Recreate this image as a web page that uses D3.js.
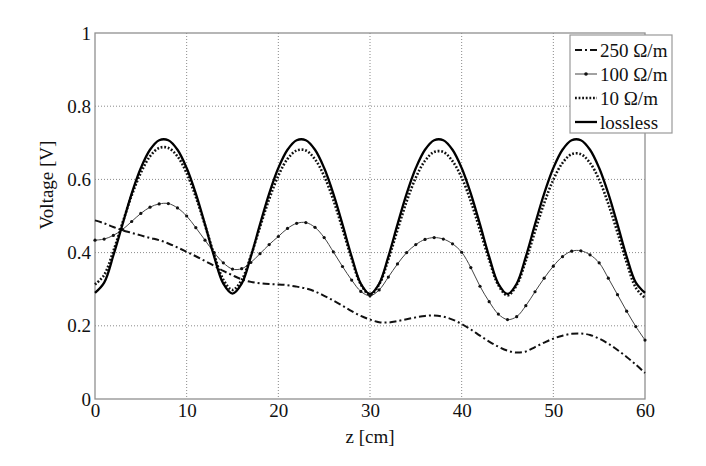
<!DOCTYPE html>
<html>
<head>
<meta charset="utf-8">
<script src="https://cdn.jsdelivr.net/npm/d3@7"></script>
<style>
  body { margin: 0; background: #fff; }
</style>
</head>
<body>
<div id="chart"></div>
<script>
const width = 706;
const height = 466;
const serif = "'Liberation Serif', 'DejaVu Serif', serif";

// sample positions along the line [cm]
const zPos = [0,1,2,3,4,5,6,7,8,9,10,11,12,13,14,15,16,17,18,19,20,
  21,22,23,24,25,26,27,28,29,30,31,32,33,34,35,36,37,38,39,40,
  41,42,43,44,45,46,47,48,49,50,51,52,53,54,55,56,57,58,59,60];

// voltages [V]
const v250 = [0.488,0.480,0.470,0.461,0.454,0.447,0.440,0.434,0.425,0.414,0.402,
  0.390,0.377,0.364,0.350,0.338,0.327,0.320,0.316,0.314,0.313,
  0.311,0.307,0.302,0.294,0.282,0.269,0.255,0.240,0.227,0.217,
  0.210,0.209,0.213,0.218,0.223,0.227,0.228,0.225,0.217,0.205,
  0.190,0.173,0.157,0.143,0.132,0.127,0.130,0.142,0.154,0.165,
  0.173,0.178,0.179,0.175,0.165,0.151,0.134,0.115,0.094,0.071];

const v100 = [0.434,0.437,0.447,0.463,0.485,0.507,0.524,0.533,0.534,0.522,0.500,
  0.468,0.434,0.400,0.372,0.355,0.356,0.373,0.397,0.422,0.444,
  0.466,0.480,0.482,0.469,0.441,0.402,0.362,0.325,0.294,0.282,
  0.298,0.333,0.369,0.400,0.422,0.436,0.441,0.437,0.424,0.401,
  0.359,0.308,0.266,0.232,0.217,0.225,0.255,0.293,0.330,0.363,
  0.389,0.404,0.405,0.394,0.372,0.330,0.285,0.240,0.198,0.161];

const v10 = [0.313,0.339,0.404,0.481,0.556,0.618,0.663,0.686,0.686,0.663,0.617,
  0.552,0.475,0.394,0.326,0.298,0.325,0.391,0.470,0.546,0.610,
  0.656,0.679,0.679,0.655,0.609,0.544,0.465,0.383,0.313,0.285,
  0.313,0.381,0.462,0.540,0.605,0.651,0.675,0.675,0.650,0.605,
  0.540,0.461,0.380,0.311,0.283,0.311,0.378,0.458,0.535,0.599,
  0.645,0.669,0.669,0.645,0.599,0.533,0.455,0.373,0.304,0.276];

const vLossless = [0.290,0.318,0.392,0.477,0.561,0.631,0.681,0.707,0.707,0.681,0.631,
  0.561,0.477,0.389,0.315,0.288,0.315,0.389,0.477,0.561,0.631,
  0.681,0.707,0.707,0.681,0.631,0.561,0.477,0.389,0.315,0.287,
  0.315,0.389,0.477,0.561,0.631,0.681,0.707,0.707,0.681,0.631,
  0.561,0.477,0.389,0.315,0.287,0.315,0.389,0.477,0.561,0.631,
  0.681,0.707,0.707,0.681,0.631,0.561,0.477,0.389,0.318,0.290];

const xTicks = [0, 10, 20, 30, 40, 50, 60];
const yTicks = [0, 0.2, 0.4, 0.6, 0.8, 1];
const legendLabels = ["250 \u03A9/m", "100 \u03A9/m", "10 \u03A9/m", "lossless"];

const margin = {top: 33, right: 61, bottom: 67, left: 95};
const innerW = width - margin.left - margin.right;
const innerH = height - margin.top - margin.bottom;

const svg = d3.select("#chart")
  .append("svg")
  .attr("width", width)
  .attr("height", height);

const g = svg.append("g")
  .attr("transform", `translate(${margin.left},${margin.top})`);

const x = d3.scaleLinear().domain([0, 60]).range([0, innerW]);
const y = d3.scaleLinear().domain([0, 1]).range([innerH, 0]);

// grid
g.append("g").selectAll("line")
  .data(xTicks.slice(1, -1))
  .enter().append("line")
  .attr("x1", d => x(d)).attr("x2", d => x(d))
  .attr("y1", 0).attr("y2", innerH)
  .attr("stroke", "#8a8a8a").attr("stroke-width", 1)
  .attr("stroke-dasharray", "1,2");

g.append("g").selectAll("line")
  .data(yTicks.slice(1, -1))
  .enter().append("line")
  .attr("x1", 0).attr("x2", innerW)
  .attr("y1", d => y(d)).attr("y2", d => y(d))
  .attr("stroke", "#8a8a8a").attr("stroke-width", 1)
  .attr("stroke-dasharray", "1,2");

// axes
const xAxis = g.append("g")
  .attr("transform", `translate(0,${innerH})`)
  .call(d3.axisBottom(x).tickValues(xTicks).tickSize(0).tickPadding(5));
const yAxis = g.append("g")
  .call(d3.axisLeft(y).tickValues(yTicks).tickSize(0).tickPadding(4)
    .tickFormat(d3.format("~g")));
[xAxis, yAxis].forEach(a => {
  a.select(".domain").remove();
  a.attr("font-family", serif);
  a.selectAll("text")
    .style("font-family", serif)
    .style("font-size", "19px")
    .style("fill", "#111");
});

// frame
g.append("rect")
  .attr("width", innerW).attr("height", innerH)
  .attr("fill", "none").attr("stroke", "#909090").attr("stroke-width", 1.3);

const line = d3.line()
  .x((d, i) => x(zPos[i]))
  .y(d => y(d))
  .curve(d3.curveCatmullRom.alpha(0.5));

g.append("path").datum(v250)
  .attr("d", line).attr("fill", "none")
  .attr("stroke", "#111").attr("stroke-width", 2)
  .attr("stroke-dasharray", "7,3,2,3");

g.append("path").datum(v100)
  .attr("d", line).attr("fill", "none")
  .attr("stroke", "#444").attr("stroke-width", 1);
g.append("g").selectAll("circle")
  .data(v100)
  .enter().append("circle")
  .attr("cx", (d, i) => x(zPos[i]))
  .attr("cy", d => y(d))
  .attr("r", 1.6)
  .attr("fill", "#111");

g.append("path").datum(v10)
  .attr("d", line).attr("fill", "none")
  .attr("stroke", "#111").attr("stroke-width", 2.6)
  .attr("stroke-dasharray", "1.8,1.8");

g.append("path").datum(vLossless)
  .attr("d", line).attr("fill", "none")
  .attr("stroke", "#000").attr("stroke-width", 2.3);

// axis labels
svg.append("text")
  .attr("x", margin.left + innerW / 2).attr("y", 443)
  .attr("text-anchor", "middle")
  .style("font-family", serif)
  .style("font-size", "19px")
  .style("fill", "#111")
  .text("z [cm]");

svg.append("text")
  .attr("transform", "translate(53,185) rotate(-90)")
  .attr("text-anchor", "middle")
  .style("font-family", serif)
  .style("font-size", "19px")
  .style("fill", "#111")
  .text("Voltage [V]");

// legend
const legend = svg.append("g").attr("transform", "translate(570,35)");
legend.append("rect")
  .attr("width", 102).attr("height", 98)
  .attr("fill", "#fff").attr("stroke", "#999").attr("stroke-width", 1.2);

const rows = legend.selectAll(".row")
  .data(legendLabels)
  .enter().append("g")
  .attr("transform", (d, i) => `translate(0,${15 + i * 24})`);

rows.append("text")
  .attr("x", 30).attr("y", 0).attr("dy", "0.35em")
  .style("font-family", serif)
  .style("font-size", "19px")
  .style("fill", "#111")
  .text(d => d);

const sample = [
  {w: 2, dash: "7,3,2,3", c: "#111"},
  {w: 1, dash: null, c: "#444"},
  {w: 2.6, dash: "1.8,1.8", c: "#111"},
  {w: 2.3, dash: null, c: "#000"}
];
rows.append("line")
  .attr("x1", 5).attr("x2", 27).attr("y1", 0).attr("y2", 0)
  .attr("stroke", (d, i) => sample[i].c)
  .attr("stroke-width", (d, i) => sample[i].w)
  .attr("stroke-dasharray", (d, i) => sample[i].dash);
rows.filter((d, i) => i === 1).append("circle")
  .attr("cx", 16).attr("cy", 0).attr("r", 1.8).attr("fill", "#111");
</script>
</body>
</html>
